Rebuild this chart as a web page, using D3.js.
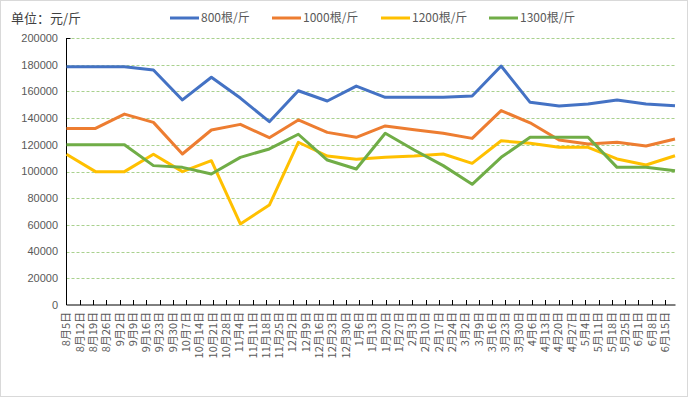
<!DOCTYPE html>
<html>
<head>
<meta charset="utf-8">
<script src="https://cdn.jsdelivr.net/npm/d3@7"></script>
<style>
  body { margin: 0; background: #fff; }
  svg { display: block; font-family: "Noto Sans CJK SC", "Liberation Sans", sans-serif; }
</style>
</head>
<body>
<div id="chart"></div>
<script>
// weekly labels on the category axis
const dates = ["8月5日","8月12日","8月19日","8月26日","9月2日","9月9日","9月16日","9月23日","9月30日",
  "10月7日","10月14日","10月21日","10月28日","11月4日","11月11日","11月18日","11月25日",
  "12月2日","12月9日","12月16日","12月23日","12月30日","1月6日","1月13日","1月20日","1月27日",
  "2月3日","2月10日","2月17日","2月24日","3月2日","3月9日","3月16日","3月23日","3月30日",
  "4月6日","4月13日","4月20日","4月27日","5月4日","5月11日","5月18日","5月25日","6月1日","6月8日","6月15日"];

const seriesNames = ["800根/斤", "1000根/斤", "1200根/斤", "1300根/斤"];
const s800  = [178500,178500,178500,176000,153600,170600,155000,137300,160500,152800,164000,155600,155600,155600,156600,179000,151800,149000,150600,153600,150600,149300];
const s1000 = [132300,132300,143000,136800,113100,131100,135300,125300,138600,129300,125600,134100,131300,128600,124800,145600,136500,123600,120600,121900,119100,124300];
const s1200 = [112900,99900,99900,112900,99900,108100,60700,74900,121900,111600,109100,110600,111600,113100,106100,123000,121100,118100,118100,109400,104900,111800];
const s1300 = [120100,120100,120100,104400,103100,98100,110600,116900,127900,108600,101900,128600,116100,104400,90400,110600,125600,125600,125600,103100,103100,100600];
const yTicks = [0,20000,40000,60000,80000,100000,120000,140000,160000,180000,200000];

const colors = ["#4472C4", "#ED7D31", "#FFC000", "#70AD47"];
const allSeries = [s800, s1000, s1200, s1300];

const width = 691, height = 398;
const margin = { top: 38, right: 16, bottom: 93, left: 66.5 };
const plotRight = width - margin.right;
const plotBottom = height - margin.bottom;

const svg = d3.select("#chart").append("svg")
  .attr("width", width)
  .attr("height", height);

svg.append("rect")
  .attr("x", 0.5).attr("y", 0.5)
  .attr("width", 687).attr("height", 396)
  .attr("fill", "#fff")
  .attr("stroke", "#d9d9d9");

const y = d3.scaleLinear()
  .domain([0, 200000])
  .range([plotBottom, margin.top]);

// category axis: labels sit on the ticks
const x = d3.scalePoint()
  .domain(dates)
  .range([margin.left, margin.left + 13.3 * (dates.length - 1)]);

// line points spread across the full plot width
const xp = d3.scalePoint()
  .domain(d3.range(s800.length))
  .range([margin.left, plotRight]);

// gridlines
svg.append("g")
  .selectAll("line")
  .data(yTicks.filter(d => d > 0))
  .join("line")
    .attr("x1", margin.left)
    .attr("x2", plotRight)
    .attr("y1", d => Math.round(y(d)) + 0.5)
    .attr("y2", d => Math.round(y(d)) + 0.5)
    .attr("stroke", "#A9D18E")
    .attr("stroke-dasharray", "3,2");

// y axis
svg.append("g")
  .selectAll("text")
  .data(yTicks)
  .join("text")
    .attr("x", 58)
    .attr("y", d => y(d))
    .attr("dy", "0.35em")
    .attr("text-anchor", "end")
    .attr("fill", "#595959")
    .style("font-family", "'Liberation Sans', sans-serif")
    .style("font-size", "11px")
    .text(d => d);

svg.append("line")
  .attr("x1", margin.left).attr("x2", margin.left)
  .attr("y1", margin.top).attr("y2", plotBottom)
  .attr("stroke", "#000");
svg.append("line")
  .attr("x1", margin.left).attr("x2", margin.left + 4)
  .attr("y1", margin.top + 0.5).attr("y2", margin.top + 0.5)
  .attr("stroke", "#000");

// x axis
const xg = svg.append("g").attr("transform", `translate(0,${plotBottom})`);
xg.append("line")
  .attr("x1", margin.left).attr("x2", plotRight + 0.5)
  .attr("y1", 0).attr("y2", 0)
  .attr("stroke", "#000");
xg.selectAll("line.tick")
  .data(dates.slice(1))
  .join("line")
    .attr("class", "tick")
    .attr("x1", d => Math.round(x(d)) + 0.5)
    .attr("x2", d => Math.round(x(d)) + 0.5)
    .attr("y1", 0).attr("y2", -5)
    .attr("stroke", "#000");
xg.selectAll("text")
  .data(dates)
  .join("text")
    .attr("transform", d => `translate(${x(d)},7) rotate(-90)`)
    .attr("dy", "0.35em")
    .attr("text-anchor", "end")
    .attr("fill", "#595959")
    .style("font-size", "11px")
    .text(d => d);

// lines
const line = d3.line()
  .x((d, i) => xp(i))
  .y(d => y(d));

svg.append("g")
  .selectAll("path")
  .data(allSeries)
  .join("path")
    .attr("d", line)
    .attr("fill", "none")
    .attr("stroke", (d, i) => colors[i])
    .attr("stroke-width", 3)
    .attr("stroke-linejoin", "round");

// title
svg.append("text")
  .attr("x", 11)
  .attr("y", 18)
  .attr("dy", "0.35em")
  .attr("fill", "#404040")
  .style("font-size", "13px")
  .text("单位：元/斤");

// legend
const legendX = [170, 272, 381, 489];
const legend = svg.append("g")
  .selectAll("g")
  .data(seriesNames)
  .join("g")
    .attr("transform", (d, i) => `translate(${legendX[i]},18)`);
legend.append("line")
  .attr("x1", 0).attr("x2", 29)
  .attr("stroke", (d, i) => colors[i])
  .attr("stroke-width", 3);
legend.append("text")
  .attr("x", 31)
  .attr("dy", "0.35em")
  .attr("fill", "#595959")
  .style("font-size", "12px")
  .text(d => d);
</script>
</body>
</html>
